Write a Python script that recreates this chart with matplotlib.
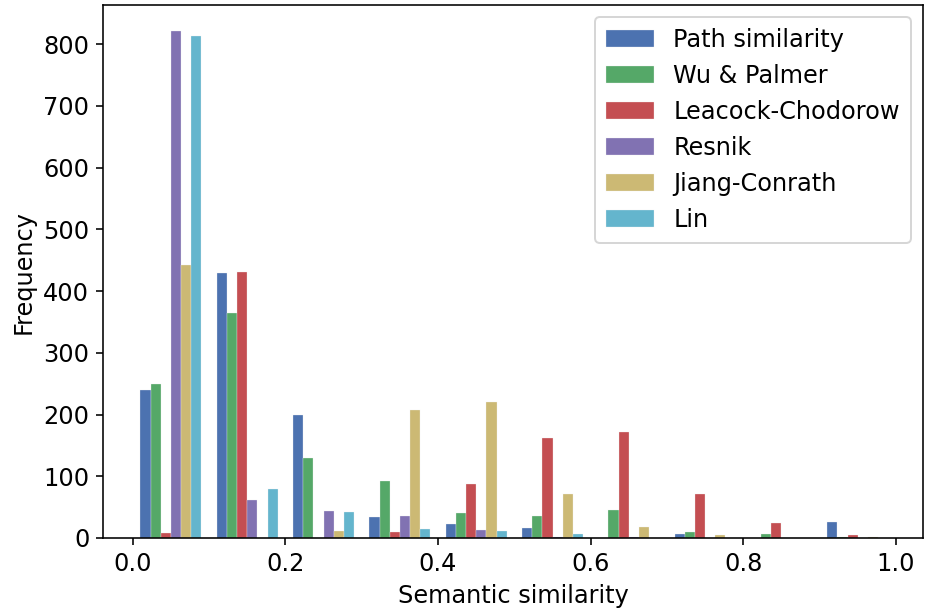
import numpy as np
import matplotlib
matplotlib.use('Agg')
import matplotlib.pyplot as plt

# Histogram bins over the similarity range
bin_edges = np.linspace(0.0, 1.0, 11)
bin_centers = (bin_edges[:-1] + bin_edges[1:]) / 2

# Counts per bin for each measure
path_counts = [240, 429, 200, 34, 23, 16, 0, 6, 0, 26]
wup_counts = [249, 365, 129, 93, 40, 35, 45, 10, 6, 2]
lch_counts = [8, 431, 0, 10, 87, 162, 172, 72, 25, 5]
res_counts = [822, 61, 43, 35, 13, 2, 1, 0, 0, 0]
jcn_counts = [442, 0, 11, 207, 220, 72, 17, 5, 0, 1]
lin_counts = [813, 79, 42, 15, 11, 6, 0, 0, 0, 0]

labels = ['Path similarity', 'Wu & Palmer', 'Leacock-Chodorow',
          'Resnik', 'Jiang-Conrath', 'Lin']
colors = ['#4C72B0', '#55A868', '#C44E52', '#8172B2', '#CCB974', '#64B5CD']

counts = [path_counts, wup_counts, lch_counts, res_counts, jcn_counts, lin_counts]

plt.rcParams['font.size'] = 12

fig = plt.figure(figsize=(926 / 144, 614 / 144), dpi=144)
ax = fig.add_axes([0.1116, 0.1238, 0.8848, 0.8676])

ax.hist([bin_centers] * len(counts), bins=bin_edges, weights=counts,
        color=colors, label=labels, edgecolor='#f0f0f0', linewidth=0.15)

ax.set_xlim(-0.0385, 1.035)
ax.set_xlabel('Semantic similarity')
ax.set_ylabel('Frequency')
ax.legend(loc='upper right', borderpad=0.45)

fig.savefig('out.png', dpi=144)
